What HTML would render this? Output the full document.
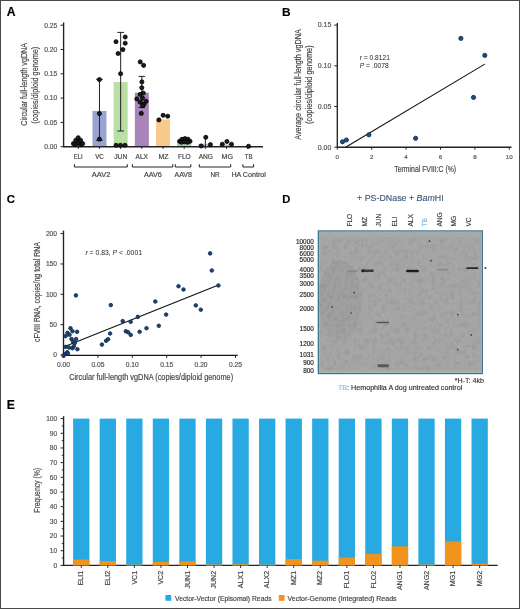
<!DOCTYPE html>
<html><head><meta charset="utf-8"><style>
html,body{margin:0;padding:0;background:#fff;}
body{width:520px;height:609px;overflow:hidden;}
svg{display:block;font-family:"Liberation Sans", sans-serif;will-change:transform;filter:blur(0.3px);}
text{paint-order:stroke;}
</style></head><body>
<svg width="520" height="609" viewBox="0 0 520 609">
<rect x="0" y="0" width="520" height="609" fill="#fff"/>
<text x="6.70" y="15.80" font-size="12.2" text-anchor="start" fill="#000" font-weight="bold" stroke="#000" stroke-width="0.15">A</text>
<text x="282.00" y="15.80" font-size="11.8" text-anchor="start" fill="#000" font-weight="bold" stroke="#000" stroke-width="0.15">B</text>
<text x="6.70" y="202.70" font-size="11.4" text-anchor="start" fill="#000" font-weight="bold" stroke="#000" stroke-width="0.15">C</text>
<text x="282.30" y="202.70" font-size="11.2" text-anchor="start" fill="#000" font-weight="bold" stroke="#000" stroke-width="0.15">D</text>
<text x="6.80" y="409.20" font-size="12.2" text-anchor="start" fill="#000" font-weight="bold" stroke="#000" stroke-width="0.15">E</text>
<line x1="63.60" y1="22.50" x2="63.60" y2="147.30" stroke="#222" stroke-width="1.35"/>
<line x1="60.60" y1="25.20" x2="63.60" y2="25.20" stroke="#222" stroke-width="1"/>
<text x="57.30" y="27.50" font-size="6.4" text-anchor="end" fill="#555555" textLength="13.0" lengthAdjust="spacingAndGlyphs" stroke="#555555" stroke-width="0.18">0.25</text>
<line x1="60.60" y1="49.50" x2="63.60" y2="49.50" stroke="#222" stroke-width="1"/>
<text x="57.30" y="51.80" font-size="6.4" text-anchor="end" fill="#555555" textLength="13.0" lengthAdjust="spacingAndGlyphs" stroke="#555555" stroke-width="0.18">0.20</text>
<line x1="60.60" y1="73.80" x2="63.60" y2="73.80" stroke="#222" stroke-width="1"/>
<text x="57.30" y="76.10" font-size="6.4" text-anchor="end" fill="#555555" textLength="13.0" lengthAdjust="spacingAndGlyphs" stroke="#555555" stroke-width="0.18">0.15</text>
<line x1="60.60" y1="98.10" x2="63.60" y2="98.10" stroke="#222" stroke-width="1"/>
<text x="57.30" y="100.40" font-size="6.4" text-anchor="end" fill="#555555" textLength="13.0" lengthAdjust="spacingAndGlyphs" stroke="#555555" stroke-width="0.18">0.10</text>
<line x1="60.60" y1="122.40" x2="63.60" y2="122.40" stroke="#222" stroke-width="1"/>
<text x="57.30" y="124.70" font-size="6.4" text-anchor="end" fill="#555555" textLength="13.0" lengthAdjust="spacingAndGlyphs" stroke="#555555" stroke-width="0.18">0.05</text>
<line x1="60.60" y1="146.70" x2="63.60" y2="146.70" stroke="#222" stroke-width="1"/>
<text x="57.30" y="149.00" font-size="6.4" text-anchor="end" fill="#555555" textLength="13.0" lengthAdjust="spacingAndGlyphs" stroke="#555555" stroke-width="0.18">0.00</text>
<text x="26.70" y="84.30" font-size="8.8" text-anchor="middle" fill="#454545" textLength="82.8" lengthAdjust="spacingAndGlyphs" stroke="#454545" stroke-width="0.18" transform="rotate(-90 26.70 84.30)">Circular full-length vgDNA</text>
<text x="37.50" y="85.25" font-size="8.8" text-anchor="middle" fill="#454545" textLength="76.9" lengthAdjust="spacingAndGlyphs" stroke="#454545" stroke-width="0.18" transform="rotate(-90 37.50 85.25)">(copies/diploid genome)</text>
<rect x="71.30" y="141.84" width="14.00" height="4.86" fill="#e9a7a3"/>
<rect x="92.48" y="110.98" width="14.00" height="35.72" fill="#99a3d0"/>
<rect x="113.66" y="82.06" width="14.00" height="64.64" fill="#b9dfa5"/>
<rect x="134.84" y="92.75" width="14.00" height="53.95" fill="#a884b8"/>
<rect x="156.02" y="119.48" width="14.00" height="27.22" fill="#f8c98b"/>
<rect x="177.20" y="140.87" width="14.00" height="5.83" fill="#a9c6a9"/>
<rect x="198.38" y="143.78" width="14.00" height="2.92" fill="#b9b9dd"/>
<rect x="219.56" y="144.27" width="14.00" height="2.43" fill="#e6b8c8"/>
<line x1="99.48" y1="79.30" x2="99.48" y2="140.40" stroke="#222" stroke-width="1"/>
<line x1="96.18" y1="79.30" x2="102.78" y2="79.30" stroke="#222" stroke-width="1"/>
<line x1="96.18" y1="140.40" x2="102.78" y2="140.40" stroke="#222" stroke-width="1"/>
<line x1="120.66" y1="32.40" x2="120.66" y2="131.00" stroke="#222" stroke-width="1"/>
<line x1="117.36" y1="32.40" x2="123.96" y2="32.40" stroke="#222" stroke-width="1"/>
<line x1="117.36" y1="131.00" x2="123.96" y2="131.00" stroke="#222" stroke-width="1"/>
<line x1="141.84" y1="76.40" x2="141.84" y2="107.50" stroke="#222" stroke-width="1"/>
<line x1="138.54" y1="76.40" x2="145.14" y2="76.40" stroke="#222" stroke-width="1"/>
<line x1="138.54" y1="107.50" x2="145.14" y2="107.50" stroke="#222" stroke-width="1"/>
<line x1="205.38" y1="137.50" x2="205.38" y2="146.70" stroke="#222" stroke-width="1"/>
<line x1="63.60" y1="146.70" x2="263.00" y2="146.70" stroke="#222" stroke-width="1.35"/>
<line x1="78.30" y1="146.70" x2="78.30" y2="148.90" stroke="#222" stroke-width="1"/>
<line x1="99.48" y1="146.70" x2="99.48" y2="148.90" stroke="#222" stroke-width="1"/>
<line x1="120.66" y1="146.70" x2="120.66" y2="148.90" stroke="#222" stroke-width="1"/>
<line x1="141.84" y1="146.70" x2="141.84" y2="148.90" stroke="#222" stroke-width="1"/>
<line x1="163.02" y1="146.70" x2="163.02" y2="148.90" stroke="#222" stroke-width="1"/>
<line x1="184.20" y1="146.70" x2="184.20" y2="148.90" stroke="#222" stroke-width="1"/>
<line x1="205.38" y1="146.70" x2="205.38" y2="148.90" stroke="#222" stroke-width="1"/>
<line x1="226.56" y1="146.70" x2="226.56" y2="148.90" stroke="#222" stroke-width="1"/>
<line x1="247.74" y1="146.70" x2="247.74" y2="148.90" stroke="#222" stroke-width="1"/>
<circle cx="73.50" cy="143.60" r="2.05" fill="#1c1c1c" stroke="#000" stroke-width="0.8"/>
<circle cx="75.60" cy="144.60" r="2.05" fill="#1c1c1c" stroke="#000" stroke-width="0.8"/>
<circle cx="80.60" cy="144.60" r="2.05" fill="#1c1c1c" stroke="#000" stroke-width="0.8"/>
<circle cx="82.50" cy="143.60" r="2.05" fill="#1c1c1c" stroke="#000" stroke-width="0.8"/>
<circle cx="78.20" cy="142.60" r="2.05" fill="#1c1c1c" stroke="#000" stroke-width="0.8"/>
<circle cx="75.80" cy="140.30" r="2.05" fill="#1c1c1c" stroke="#000" stroke-width="0.8"/>
<circle cx="80.60" cy="140.30" r="2.05" fill="#1c1c1c" stroke="#000" stroke-width="0.8"/>
<circle cx="78.20" cy="137.70" r="2.05" fill="#1c1c1c" stroke="#000" stroke-width="0.8"/>
<circle cx="99.40" cy="79.60" r="2.05" fill="#1c1c1c" stroke="#000" stroke-width="0.8"/>
<circle cx="99.40" cy="113.60" r="2.05" fill="#1c1c1c" stroke="#000" stroke-width="0.8"/>
<circle cx="99.40" cy="139.20" r="2.05" fill="#1c1c1c" stroke="#000" stroke-width="0.8"/>
<circle cx="125.20" cy="37.00" r="2.05" fill="#1c1c1c" stroke="#000" stroke-width="0.8"/>
<circle cx="116.00" cy="41.70" r="2.05" fill="#1c1c1c" stroke="#000" stroke-width="0.8"/>
<circle cx="125.20" cy="43.20" r="2.05" fill="#1c1c1c" stroke="#000" stroke-width="0.8"/>
<circle cx="122.90" cy="49.60" r="2.05" fill="#1c1c1c" stroke="#000" stroke-width="0.8"/>
<circle cx="118.10" cy="53.50" r="2.05" fill="#1c1c1c" stroke="#000" stroke-width="0.8"/>
<circle cx="120.60" cy="73.70" r="2.05" fill="#1c1c1c" stroke="#000" stroke-width="0.8"/>
<circle cx="116.10" cy="145.30" r="2.05" fill="#1c1c1c" stroke="#000" stroke-width="0.8"/>
<circle cx="120.50" cy="145.30" r="2.05" fill="#1c1c1c" stroke="#000" stroke-width="0.8"/>
<circle cx="125.00" cy="145.30" r="2.05" fill="#1c1c1c" stroke="#000" stroke-width="0.8"/>
<circle cx="140.20" cy="61.90" r="2.05" fill="#1c1c1c" stroke="#000" stroke-width="0.8"/>
<circle cx="143.60" cy="65.40" r="2.05" fill="#1c1c1c" stroke="#000" stroke-width="0.8"/>
<circle cx="141.90" cy="81.90" r="2.05" fill="#1c1c1c" stroke="#000" stroke-width="0.8"/>
<circle cx="141.80" cy="87.70" r="2.05" fill="#1c1c1c" stroke="#000" stroke-width="0.8"/>
<circle cx="140.10" cy="94.40" r="2.05" fill="#1c1c1c" stroke="#000" stroke-width="0.8"/>
<circle cx="143.30" cy="93.00" r="2.05" fill="#1c1c1c" stroke="#000" stroke-width="0.8"/>
<circle cx="136.80" cy="98.90" r="2.05" fill="#1c1c1c" stroke="#000" stroke-width="0.8"/>
<circle cx="142.50" cy="98.10" r="2.05" fill="#1c1c1c" stroke="#000" stroke-width="0.8"/>
<circle cx="146.10" cy="101.30" r="2.05" fill="#1c1c1c" stroke="#000" stroke-width="0.8"/>
<circle cx="140.10" cy="102.10" r="2.05" fill="#1c1c1c" stroke="#000" stroke-width="0.8"/>
<circle cx="144.10" cy="104.10" r="2.05" fill="#1c1c1c" stroke="#000" stroke-width="0.8"/>
<circle cx="142.50" cy="105.80" r="2.05" fill="#1c1c1c" stroke="#000" stroke-width="0.8"/>
<circle cx="141.30" cy="113.40" r="2.05" fill="#1c1c1c" stroke="#000" stroke-width="0.8"/>
<circle cx="158.90" cy="119.90" r="2.05" fill="#1c1c1c" stroke="#000" stroke-width="0.8"/>
<circle cx="163.10" cy="115.30" r="2.05" fill="#1c1c1c" stroke="#000" stroke-width="0.8"/>
<circle cx="167.70" cy="116.20" r="2.05" fill="#1c1c1c" stroke="#000" stroke-width="0.8"/>
<circle cx="179.60" cy="141.30" r="2.05" fill="#1c1c1c" stroke="#000" stroke-width="0.8"/>
<circle cx="182.00" cy="139.30" r="2.05" fill="#1c1c1c" stroke="#000" stroke-width="0.8"/>
<circle cx="185.00" cy="138.60" r="2.05" fill="#1c1c1c" stroke="#000" stroke-width="0.8"/>
<circle cx="188.00" cy="139.20" r="2.05" fill="#1c1c1c" stroke="#000" stroke-width="0.8"/>
<circle cx="190.00" cy="141.30" r="2.05" fill="#1c1c1c" stroke="#000" stroke-width="0.8"/>
<circle cx="181.50" cy="142.30" r="2.05" fill="#1c1c1c" stroke="#000" stroke-width="0.8"/>
<circle cx="184.50" cy="141.80" r="2.05" fill="#1c1c1c" stroke="#000" stroke-width="0.8"/>
<circle cx="187.50" cy="142.20" r="2.05" fill="#1c1c1c" stroke="#000" stroke-width="0.8"/>
<circle cx="205.80" cy="137.30" r="2.05" fill="#1c1c1c" stroke="#000" stroke-width="0.8"/>
<circle cx="201.20" cy="146.00" r="2.05" fill="#1c1c1c" stroke="#000" stroke-width="0.8"/>
<circle cx="210.40" cy="144.60" r="2.05" fill="#1c1c1c" stroke="#000" stroke-width="0.8"/>
<circle cx="222.30" cy="144.20" r="2.05" fill="#1c1c1c" stroke="#000" stroke-width="0.8"/>
<circle cx="226.90" cy="141.50" r="2.05" fill="#1c1c1c" stroke="#000" stroke-width="0.8"/>
<circle cx="231.50" cy="144.20" r="2.05" fill="#1c1c1c" stroke="#000" stroke-width="0.8"/>
<circle cx="248.50" cy="146.30" r="2.05" fill="#1c1c1c" stroke="#000" stroke-width="0.8"/>
<text x="78.25" y="159.00" font-size="6.5" text-anchor="middle" fill="#454545" textLength="8.9" lengthAdjust="spacingAndGlyphs" stroke="#454545" stroke-width="0.18">ELI</text>
<text x="99.50" y="159.00" font-size="6.5" text-anchor="middle" fill="#454545" textLength="8.6" lengthAdjust="spacingAndGlyphs" stroke="#454545" stroke-width="0.18">VC</text>
<text x="120.75" y="159.00" font-size="6.5" text-anchor="middle" fill="#454545" textLength="13.1" lengthAdjust="spacingAndGlyphs" stroke="#454545" stroke-width="0.18">JUN</text>
<text x="141.80" y="159.00" font-size="6.5" text-anchor="middle" fill="#454545" textLength="12.4" lengthAdjust="spacingAndGlyphs" stroke="#454545" stroke-width="0.18">ALX</text>
<text x="163.55" y="159.00" font-size="6.5" text-anchor="middle" fill="#454545" textLength="10.1" lengthAdjust="spacingAndGlyphs" stroke="#454545" stroke-width="0.18">MZ</text>
<text x="184.35" y="159.00" font-size="6.5" text-anchor="middle" fill="#454545" textLength="12.9" lengthAdjust="spacingAndGlyphs" stroke="#454545" stroke-width="0.18">FLO</text>
<text x="205.85" y="159.00" font-size="6.5" text-anchor="middle" fill="#454545" textLength="14.3" lengthAdjust="spacingAndGlyphs" stroke="#454545" stroke-width="0.18">ANG</text>
<text x="227.20" y="159.00" font-size="6.5" text-anchor="middle" fill="#454545" textLength="11.4" lengthAdjust="spacingAndGlyphs" stroke="#454545" stroke-width="0.18">MG</text>
<text x="248.70" y="159.00" font-size="6.5" text-anchor="middle" fill="#454545" textLength="7.8" lengthAdjust="spacingAndGlyphs" stroke="#454545" stroke-width="0.18">TB</text>
<path d="M74.40 164.2 V167 H127.30 V164.2" fill="none" stroke="#222" stroke-width="1"/>
<text x="101.05" y="176.60" font-size="6.5" text-anchor="middle" fill="#454545" textLength="18.7" lengthAdjust="spacingAndGlyphs" stroke="#454545" stroke-width="0.18">AAV2</text>
<path d="M132.40 164.2 V167 H172.80 V164.2" fill="none" stroke="#222" stroke-width="1"/>
<text x="152.90" y="176.60" font-size="6.5" text-anchor="middle" fill="#454545" textLength="18" lengthAdjust="spacingAndGlyphs" stroke="#454545" stroke-width="0.18">AAV6</text>
<path d="M175.30 164.2 V167 H190.80 V164.2" fill="none" stroke="#222" stroke-width="1"/>
<text x="183.25" y="176.60" font-size="6.5" text-anchor="middle" fill="#454545" textLength="17.3" lengthAdjust="spacingAndGlyphs" stroke="#454545" stroke-width="0.18">AAV8</text>
<path d="M199.30 164.2 V167 H230.70 V164.2" fill="none" stroke="#222" stroke-width="1"/>
<text x="215.00" y="176.60" font-size="6.5" text-anchor="middle" fill="#454545" textLength="9.2" lengthAdjust="spacingAndGlyphs" stroke="#454545" stroke-width="0.18">NR</text>
<path d="M242.90 164.2 V167 H253.60 V164.2" fill="none" stroke="#222" stroke-width="1"/>
<text x="248.60" y="176.60" font-size="6.5" text-anchor="middle" fill="#454545" textLength="34.4" lengthAdjust="spacingAndGlyphs" stroke="#454545" stroke-width="0.18">HA Control</text>
<line x1="337.30" y1="23.00" x2="337.30" y2="147.80" stroke="#222" stroke-width="1.35"/>
<line x1="334.30" y1="25.10" x2="337.30" y2="25.10" stroke="#222" stroke-width="1"/>
<text x="331.30" y="27.40" font-size="6.4" text-anchor="end" fill="#555555" textLength="13.5" lengthAdjust="spacingAndGlyphs" stroke="#555555" stroke-width="0.18">0.15</text>
<line x1="334.30" y1="65.80" x2="337.30" y2="65.80" stroke="#222" stroke-width="1"/>
<text x="331.30" y="68.10" font-size="6.4" text-anchor="end" fill="#555555" textLength="13.5" lengthAdjust="spacingAndGlyphs" stroke="#555555" stroke-width="0.18">0.10</text>
<line x1="334.30" y1="106.50" x2="337.30" y2="106.50" stroke="#222" stroke-width="1"/>
<text x="331.30" y="108.80" font-size="6.4" text-anchor="end" fill="#555555" textLength="13.5" lengthAdjust="spacingAndGlyphs" stroke="#555555" stroke-width="0.18">0.05</text>
<line x1="334.30" y1="147.20" x2="337.30" y2="147.20" stroke="#222" stroke-width="1"/>
<text x="331.30" y="149.50" font-size="6.4" text-anchor="end" fill="#555555" textLength="13.5" lengthAdjust="spacingAndGlyphs" stroke="#555555" stroke-width="0.18">0.00</text>
<line x1="337.30" y1="147.20" x2="511.50" y2="147.20" stroke="#222" stroke-width="1.35"/>
<line x1="337.30" y1="147.20" x2="337.30" y2="149.70" stroke="#222" stroke-width="1"/>
<text x="337.30" y="159.40" font-size="6.2" text-anchor="middle" fill="#555555" stroke="#555555" stroke-width="0.18">0</text>
<line x1="371.70" y1="147.20" x2="371.70" y2="149.70" stroke="#222" stroke-width="1"/>
<text x="371.70" y="159.40" font-size="6.2" text-anchor="middle" fill="#555555" stroke="#555555" stroke-width="0.18">2</text>
<line x1="406.10" y1="147.20" x2="406.10" y2="149.70" stroke="#222" stroke-width="1"/>
<text x="406.10" y="159.40" font-size="6.2" text-anchor="middle" fill="#555555" stroke="#555555" stroke-width="0.18">4</text>
<line x1="440.50" y1="147.20" x2="440.50" y2="149.70" stroke="#222" stroke-width="1"/>
<text x="440.50" y="159.40" font-size="6.2" text-anchor="middle" fill="#555555" stroke="#555555" stroke-width="0.18">6</text>
<line x1="474.90" y1="147.20" x2="474.90" y2="149.70" stroke="#222" stroke-width="1"/>
<text x="474.90" y="159.40" font-size="6.2" text-anchor="middle" fill="#555555" stroke="#555555" stroke-width="0.18">8</text>
<line x1="509.30" y1="147.20" x2="509.30" y2="149.70" stroke="#222" stroke-width="1"/>
<text x="509.30" y="159.40" font-size="6.2" text-anchor="middle" fill="#555555" stroke="#555555" stroke-width="0.18">10</text>
<text x="425.20" y="171.60" font-size="8.5" text-anchor="middle" fill="#454545" textLength="61.9" lengthAdjust="spacingAndGlyphs" stroke="#454545" stroke-width="0.18">Terminal FVIII:C (%)</text>
<text x="301.00" y="84.45" font-size="8.4" text-anchor="middle" fill="#454545" textLength="110.5" lengthAdjust="spacingAndGlyphs" stroke="#454545" stroke-width="0.18" transform="rotate(-90 301.00 84.45)">Average circular full-length vgDNA</text>
<text x="312.00" y="84.60" font-size="8.4" text-anchor="middle" fill="#454545" textLength="78.6" lengthAdjust="spacingAndGlyphs" stroke="#454545" stroke-width="0.18" transform="rotate(-90 312.00 84.60)">(copies/diploid genome)</text>
<line x1="345.60" y1="147.20" x2="484.80" y2="64.10" stroke="#111" stroke-width="1.1"/>
<circle cx="342.50" cy="141.80" r="2.1" fill="#1f4b80" stroke="#0e2c55" stroke-width="0.85"/>
<circle cx="346.40" cy="140.00" r="2.1" fill="#1f4b80" stroke="#0e2c55" stroke-width="0.85"/>
<circle cx="368.90" cy="134.80" r="2.1" fill="#1f4b80" stroke="#0e2c55" stroke-width="0.85"/>
<circle cx="415.60" cy="138.30" r="2.1" fill="#1f4b80" stroke="#0e2c55" stroke-width="0.85"/>
<circle cx="460.90" cy="38.40" r="2.1" fill="#1f4b80" stroke="#0e2c55" stroke-width="0.85"/>
<circle cx="484.80" cy="55.40" r="2.1" fill="#1f4b80" stroke="#0e2c55" stroke-width="0.85"/>
<circle cx="473.50" cy="97.40" r="2.1" fill="#1f4b80" stroke="#0e2c55" stroke-width="0.85"/>
<text x="359.7" y="60" font-size="6.6" fill="#222" textLength="30.2" lengthAdjust="spacingAndGlyphs"><tspan font-style="italic">r</tspan> = 0.8121</text>
<text x="359.7" y="68" font-size="6.6" fill="#222" textLength="29.2" lengthAdjust="spacingAndGlyphs"><tspan font-style="italic">P</tspan> = .0078</text>
<line x1="63.50" y1="230.60" x2="63.50" y2="356.00" stroke="#222" stroke-width="1.35"/>
<line x1="60.50" y1="233.60" x2="63.50" y2="233.60" stroke="#222" stroke-width="1"/>
<text x="56.90" y="235.90" font-size="6.6" text-anchor="end" fill="#555555" stroke="#555555" stroke-width="0.18">200</text>
<line x1="60.50" y1="263.95" x2="63.50" y2="263.95" stroke="#222" stroke-width="1"/>
<text x="56.90" y="266.25" font-size="6.6" text-anchor="end" fill="#555555" stroke="#555555" stroke-width="0.18">150</text>
<line x1="60.50" y1="294.30" x2="63.50" y2="294.30" stroke="#222" stroke-width="1"/>
<text x="56.90" y="296.60" font-size="6.6" text-anchor="end" fill="#555555" stroke="#555555" stroke-width="0.18">100</text>
<line x1="60.50" y1="324.65" x2="63.50" y2="324.65" stroke="#222" stroke-width="1"/>
<text x="56.90" y="326.95" font-size="6.6" text-anchor="end" fill="#555555" stroke="#555555" stroke-width="0.18">50</text>
<line x1="60.50" y1="355.00" x2="63.50" y2="355.00" stroke="#222" stroke-width="1"/>
<text x="56.90" y="357.30" font-size="6.6" text-anchor="end" fill="#555555" stroke="#555555" stroke-width="0.18">0</text>
<line x1="63.50" y1="355.40" x2="237.70" y2="355.40" stroke="#161616" stroke-width="1.2"/>
<line x1="63.50" y1="355.40" x2="63.50" y2="357.90" stroke="#222" stroke-width="1"/>
<text x="63.50" y="367.30" font-size="6.4" text-anchor="middle" fill="#555555" textLength="13.0" lengthAdjust="spacingAndGlyphs" stroke="#555555" stroke-width="0.18">0.00</text>
<line x1="97.90" y1="355.40" x2="97.90" y2="357.90" stroke="#222" stroke-width="1"/>
<text x="97.90" y="367.30" font-size="6.4" text-anchor="middle" fill="#555555" textLength="13.0" lengthAdjust="spacingAndGlyphs" stroke="#555555" stroke-width="0.18">0.05</text>
<line x1="132.30" y1="355.40" x2="132.30" y2="357.90" stroke="#222" stroke-width="1"/>
<text x="132.30" y="367.30" font-size="6.4" text-anchor="middle" fill="#555555" textLength="13.0" lengthAdjust="spacingAndGlyphs" stroke="#555555" stroke-width="0.18">0.10</text>
<line x1="166.70" y1="355.40" x2="166.70" y2="357.90" stroke="#222" stroke-width="1"/>
<text x="166.70" y="367.30" font-size="6.4" text-anchor="middle" fill="#555555" textLength="13.0" lengthAdjust="spacingAndGlyphs" stroke="#555555" stroke-width="0.18">0.15</text>
<line x1="201.10" y1="355.40" x2="201.10" y2="357.90" stroke="#222" stroke-width="1"/>
<text x="201.10" y="367.30" font-size="6.4" text-anchor="middle" fill="#555555" textLength="13.0" lengthAdjust="spacingAndGlyphs" stroke="#555555" stroke-width="0.18">0.20</text>
<line x1="235.50" y1="355.40" x2="235.50" y2="357.90" stroke="#222" stroke-width="1"/>
<text x="235.50" y="367.30" font-size="6.4" text-anchor="middle" fill="#555555" textLength="13.0" lengthAdjust="spacingAndGlyphs" stroke="#555555" stroke-width="0.18">0.25</text>
<text x="151.15" y="379.60" font-size="8.8" text-anchor="middle" fill="#454545" textLength="163.9" lengthAdjust="spacingAndGlyphs" stroke="#454545" stroke-width="0.18">Circular full-length vgDNA (copies/diploid genome)</text>
<text x="40.20" y="292.10" font-size="8.4" text-anchor="middle" fill="#454545" textLength="99.8" lengthAdjust="spacingAndGlyphs" stroke="#454545" stroke-width="0.18" transform="rotate(-90 40.20 292.10)">cFVIII RNA, copies/ng total RNA</text>
<line x1="63.50" y1="346.90" x2="217.30" y2="285.40" stroke="#111" stroke-width="1.1"/>
<circle cx="75.90" cy="295.40" r="1.8" fill="#1c4575" stroke="#0c2746" stroke-width="0.8"/>
<circle cx="70.50" cy="328.20" r="1.8" fill="#1c4575" stroke="#0c2746" stroke-width="0.8"/>
<circle cx="67.50" cy="332.80" r="1.8" fill="#1c4575" stroke="#0c2746" stroke-width="0.8"/>
<circle cx="72.50" cy="331.20" r="1.8" fill="#1c4575" stroke="#0c2746" stroke-width="0.8"/>
<circle cx="77.10" cy="331.80" r="1.8" fill="#1c4575" stroke="#0c2746" stroke-width="0.8"/>
<circle cx="65.60" cy="336.10" r="1.8" fill="#1c4575" stroke="#0c2746" stroke-width="0.8"/>
<circle cx="69.50" cy="334.80" r="1.8" fill="#1c4575" stroke="#0c2746" stroke-width="0.8"/>
<circle cx="71.50" cy="339.00" r="1.8" fill="#1c4575" stroke="#0c2746" stroke-width="0.8"/>
<circle cx="76.10" cy="339.00" r="1.8" fill="#1c4575" stroke="#0c2746" stroke-width="0.8"/>
<circle cx="73.10" cy="341.70" r="1.8" fill="#1c4575" stroke="#0c2746" stroke-width="0.8"/>
<circle cx="74.80" cy="343.00" r="1.8" fill="#1c4575" stroke="#0c2746" stroke-width="0.8"/>
<circle cx="65.60" cy="346.90" r="1.8" fill="#1c4575" stroke="#0c2746" stroke-width="0.8"/>
<circle cx="69.20" cy="347.60" r="1.8" fill="#1c4575" stroke="#0c2746" stroke-width="0.8"/>
<circle cx="72.50" cy="348.20" r="1.8" fill="#1c4575" stroke="#0c2746" stroke-width="0.8"/>
<circle cx="77.40" cy="349.20" r="1.8" fill="#1c4575" stroke="#0c2746" stroke-width="0.8"/>
<circle cx="73.80" cy="346.20" r="1.8" fill="#1c4575" stroke="#0c2746" stroke-width="0.8"/>
<circle cx="67.20" cy="352.20" r="1.8" fill="#1c4575" stroke="#0c2746" stroke-width="0.8"/>
<circle cx="64.60" cy="354.10" r="1.8" fill="#1c4575" stroke="#0c2746" stroke-width="0.8"/>
<circle cx="67.90" cy="353.50" r="1.8" fill="#1c4575" stroke="#0c2746" stroke-width="0.8"/>
<circle cx="63.60" cy="355.80" r="1.8" fill="#1c4575" stroke="#0c2746" stroke-width="0.8"/>
<circle cx="110.80" cy="305.10" r="1.8" fill="#1c4575" stroke="#0c2746" stroke-width="0.8"/>
<circle cx="101.90" cy="344.60" r="1.8" fill="#1c4575" stroke="#0c2746" stroke-width="0.8"/>
<circle cx="106.10" cy="340.80" r="1.8" fill="#1c4575" stroke="#0c2746" stroke-width="0.8"/>
<circle cx="108.10" cy="339.20" r="1.8" fill="#1c4575" stroke="#0c2746" stroke-width="0.8"/>
<circle cx="110.10" cy="333.50" r="1.8" fill="#1c4575" stroke="#0c2746" stroke-width="0.8"/>
<circle cx="122.70" cy="321.10" r="1.8" fill="#1c4575" stroke="#0c2746" stroke-width="0.8"/>
<circle cx="125.80" cy="331.20" r="1.8" fill="#1c4575" stroke="#0c2746" stroke-width="0.8"/>
<circle cx="128.10" cy="332.30" r="1.8" fill="#1c4575" stroke="#0c2746" stroke-width="0.8"/>
<circle cx="130.70" cy="334.90" r="1.8" fill="#1c4575" stroke="#0c2746" stroke-width="0.8"/>
<circle cx="130.70" cy="321.80" r="1.8" fill="#1c4575" stroke="#0c2746" stroke-width="0.8"/>
<circle cx="137.80" cy="316.90" r="1.8" fill="#1c4575" stroke="#0c2746" stroke-width="0.8"/>
<circle cx="139.60" cy="331.80" r="1.8" fill="#1c4575" stroke="#0c2746" stroke-width="0.8"/>
<circle cx="146.50" cy="328.20" r="1.8" fill="#1c4575" stroke="#0c2746" stroke-width="0.8"/>
<circle cx="155.30" cy="301.50" r="1.8" fill="#1c4575" stroke="#0c2746" stroke-width="0.8"/>
<circle cx="158.80" cy="325.80" r="1.8" fill="#1c4575" stroke="#0c2746" stroke-width="0.8"/>
<circle cx="166.10" cy="314.60" r="1.8" fill="#1c4575" stroke="#0c2746" stroke-width="0.8"/>
<circle cx="210.10" cy="253.40" r="1.8" fill="#1c4575" stroke="#0c2746" stroke-width="0.8"/>
<circle cx="211.80" cy="270.50" r="1.8" fill="#1c4575" stroke="#0c2746" stroke-width="0.8"/>
<circle cx="218.40" cy="285.50" r="1.8" fill="#1c4575" stroke="#0c2746" stroke-width="0.8"/>
<circle cx="178.50" cy="286.20" r="1.8" fill="#1c4575" stroke="#0c2746" stroke-width="0.8"/>
<circle cx="183.50" cy="289.50" r="1.8" fill="#1c4575" stroke="#0c2746" stroke-width="0.8"/>
<circle cx="195.80" cy="305.40" r="1.8" fill="#1c4575" stroke="#0c2746" stroke-width="0.8"/>
<circle cx="200.80" cy="309.70" r="1.8" fill="#1c4575" stroke="#0c2746" stroke-width="0.8"/>
<text x="85.4" y="254.8" font-size="6.6" fill="#222" textLength="56.6" lengthAdjust="spacingAndGlyphs"><tspan font-style="italic">r</tspan> = 0.83, <tspan font-style="italic">P</tspan> &lt; .0001</text>
<text x="357" y="200.5" font-size="8.4" fill="#3b5678" stroke="#3b5678" stroke-width="0.12" textLength="86.7" lengthAdjust="spacingAndGlyphs">+ PS-DNase + <tspan font-style="italic">Bam</tspan>HI</text>
<text x="352.30" y="226.60" font-size="6.6" text-anchor="start" fill="#454545" stroke="#454545" stroke-width="0.18" transform="rotate(-90 352.30 226.60)">FLO</text>
<text x="367.20" y="226.60" font-size="6.6" text-anchor="start" fill="#454545" stroke="#454545" stroke-width="0.18" transform="rotate(-90 367.20 226.60)">MZ</text>
<text x="381.30" y="226.60" font-size="6.6" text-anchor="start" fill="#454545" stroke="#454545" stroke-width="0.18" transform="rotate(-90 381.30 226.60)">JUN</text>
<text x="397.30" y="226.60" font-size="6.6" text-anchor="start" fill="#454545" stroke="#454545" stroke-width="0.18" transform="rotate(-90 397.30 226.60)">ELI</text>
<text x="412.80" y="226.60" font-size="6.6" text-anchor="start" fill="#454545" stroke="#454545" stroke-width="0.18" transform="rotate(-90 412.80 226.60)">ALX</text>
<text x="427.30" y="226.60" font-size="6.6" text-anchor="start" fill="#7cbde2" stroke="#7cbde2" stroke-width="0.18" transform="rotate(-90 427.30 226.60)">TB</text>
<text x="441.80" y="226.60" font-size="6.6" text-anchor="start" fill="#454545" stroke="#454545" stroke-width="0.18" transform="rotate(-90 441.80 226.60)">ANG</text>
<text x="456.30" y="226.60" font-size="6.6" text-anchor="start" fill="#454545" stroke="#454545" stroke-width="0.18" transform="rotate(-90 456.30 226.60)">MG</text>
<text x="471.30" y="226.60" font-size="6.6" text-anchor="start" fill="#454545" stroke="#454545" stroke-width="0.18" transform="rotate(-90 471.30 226.60)">VC</text>
<rect x="318.35" y="230.95" width="164.00" height="142.60" fill="#a7a7a7" stroke="#3f7489" stroke-width="1.3"/>
<rect x="319.45" y="232.05" width="161.8" height="140.4" fill="none" stroke="#9cbfcc" stroke-width="0.8"/>
<rect x="319.90" y="370.00" width="160.90" height="1.10" fill="#b0aa98"/>
<defs><filter id="nz" x="0" y="0" width="100%" height="100%"><feTurbulence type="fractalNoise" baseFrequency="0.22 0.18" numOctaves="2" seed="7"/><feColorMatrix type="matrix" values="0 0 0 0 0  0 0 0 0 0  0 0 0 0 0  0 0 0 -1.1 0.62"/></filter><filter id="nz2" x="0" y="0" width="100%" height="100%"><feTurbulence type="fractalNoise" baseFrequency="0.5" numOctaves="1" seed="3"/><feColorMatrix type="matrix" values="0 0 0 0 0  0 0 0 0 0  0 0 0 0 0  0 0 0 -0.8 0.45"/></filter></defs>
<rect x="319.9" y="232.5" width="160.9" height="137.5" filter="url(#nz)" opacity="0.14"/>
<rect x="319.9" y="232.5" width="160.9" height="137.5" filter="url(#nz2)" opacity="0.10"/>
<ellipse cx="340" cy="300" rx="22" ry="40" fill="#000" opacity="0.035"/>
<rect x="319.90" y="232.50" width="160.90" height="1.00" fill="#b0a8a6"/>
<rect x="319.90" y="233.50" width="160.90" height="2.50" fill="#a6a9ab"/>
<rect x="319.90" y="236.00" width="160.90" height="1.20" fill="#a7aaa0"/>
<rect x="319.90" y="237.20" width="160.90" height="1.20" fill="#a6a3a6"/>
<defs><filter id="bl" x="-20%" y="-100%" width="140%" height="300%"><feGaussianBlur stdDeviation="0.45"/></filter></defs>
<rect x="347.3" y="270.25" width="10.40" height="1.9" rx="1" fill="#858585" opacity="0.9" filter="url(#bl)"/>
<rect x="361.5" y="269.50" width="12.30" height="2.6" rx="1" fill="#3a3a3a" opacity="1" filter="url(#bl)"/>
<rect x="361.5" y="269.40" width="3.00" height="2.8" rx="1" fill="#222" opacity="1" filter="url(#bl)"/>
<rect x="406.2" y="269.65" width="12.60" height="2.5" rx="1" fill="#1c1c1c" opacity="1" filter="url(#bl)"/>
<rect x="436.8" y="268.65" width="11.40" height="1.9" rx="1" fill="#878787" opacity="0.9" filter="url(#bl)"/>
<rect x="466.2" y="267.30" width="12.20" height="1.8" rx="1" fill="#262626" opacity="1" filter="url(#bl)"/>
<rect x="376.4" y="321.85" width="12.80" height="1.5" rx="1" fill="#555" opacity="1" filter="url(#bl)"/>
<rect x="377.5" y="364.30" width="11.50" height="3.0" rx="1" fill="#5a5a5a" opacity="1" filter="url(#bl)"/>
<circle cx="332.10" cy="306.90" r="0.85" fill="#3a3a3a"/>
<circle cx="351.00" cy="313.00" r="0.85" fill="#3a3a3a"/>
<circle cx="354.20" cy="292.60" r="0.85" fill="#3a3a3a"/>
<circle cx="457.80" cy="314.60" r="0.85" fill="#3a3a3a"/>
<circle cx="471.20" cy="334.90" r="0.85" fill="#3a3a3a"/>
<circle cx="457.80" cy="349.60" r="0.85" fill="#3a3a3a"/>
<circle cx="429.40" cy="241.20" r="0.85" fill="#3a3a3a"/>
<circle cx="431.00" cy="260.70" r="0.85" fill="#3a3a3a"/>
<text x="313.80" y="244.20" font-size="6.4" text-anchor="end" fill="#2a2a2a" stroke="#2a2a2a" stroke-width="0.18">10000</text>
<text x="313.80" y="250.00" font-size="6.4" text-anchor="end" fill="#2a2a2a" stroke="#2a2a2a" stroke-width="0.18">8000</text>
<text x="313.80" y="256.10" font-size="6.4" text-anchor="end" fill="#2a2a2a" stroke="#2a2a2a" stroke-width="0.18">6000</text>
<text x="313.80" y="262.30" font-size="6.4" text-anchor="end" fill="#2a2a2a" stroke="#2a2a2a" stroke-width="0.18">5000</text>
<text x="313.80" y="271.50" font-size="6.4" text-anchor="end" fill="#2a2a2a" stroke="#2a2a2a" stroke-width="0.18">4000</text>
<text x="313.80" y="277.90" font-size="6.4" text-anchor="end" fill="#2a2a2a" stroke="#2a2a2a" stroke-width="0.18">3500</text>
<text x="313.80" y="286.00" font-size="6.4" text-anchor="end" fill="#2a2a2a" stroke="#2a2a2a" stroke-width="0.18">3000</text>
<text x="313.80" y="297.10" font-size="6.4" text-anchor="end" fill="#2a2a2a" stroke="#2a2a2a" stroke-width="0.18">2500</text>
<text x="313.80" y="311.00" font-size="6.4" text-anchor="end" fill="#2a2a2a" stroke="#2a2a2a" stroke-width="0.18">2000</text>
<text x="313.80" y="330.80" font-size="6.4" text-anchor="end" fill="#2a2a2a" stroke="#2a2a2a" stroke-width="0.18">1500</text>
<text x="313.80" y="345.60" font-size="6.4" text-anchor="end" fill="#2a2a2a" stroke="#2a2a2a" stroke-width="0.18">1200</text>
<text x="313.80" y="357.20" font-size="6.4" text-anchor="end" fill="#2a2a2a" stroke="#2a2a2a" stroke-width="0.18">1031</text>
<text x="313.80" y="364.60" font-size="6.4" text-anchor="end" fill="#2a2a2a" stroke="#2a2a2a" stroke-width="0.18">900</text>
<text x="313.80" y="372.60" font-size="6.4" text-anchor="end" fill="#2a2a2a" stroke="#2a2a2a" stroke-width="0.18">800</text>
<text x="485.50" y="270.50" font-size="6" text-anchor="middle" fill="#222" stroke="#222" stroke-width="0.18">*</text>
<text x="484.00" y="383.20" font-size="6.8" text-anchor="end" fill="#2a2a2a" textLength="29.2" lengthAdjust="spacingAndGlyphs" stroke="#2a2a2a" stroke-width="0.1">*H-T: 4kb</text>
<text x="338.0" y="389.9" font-size="6.6" fill="#2a2a2a" stroke="#2a2a2a" stroke-width="0.12" textLength="124.3" lengthAdjust="spacingAndGlyphs"><tspan fill="#7cbde2" stroke="#7cbde2">TB</tspan>: Hemophilia A dog untreated control</text>
<line x1="63.60" y1="416.20" x2="63.60" y2="566.00" stroke="#222" stroke-width="1.35"/>
<line x1="60.60" y1="565.40" x2="63.60" y2="565.40" stroke="#222" stroke-width="1"/>
<text x="57.20" y="567.70" font-size="6.6" text-anchor="end" fill="#555555" stroke="#555555" stroke-width="0.18">0</text>
<line x1="61.80" y1="558.06" x2="63.60" y2="558.06" stroke="#222" stroke-width="1"/>
<line x1="60.60" y1="550.72" x2="63.60" y2="550.72" stroke="#222" stroke-width="1"/>
<text x="57.20" y="553.02" font-size="6.6" text-anchor="end" fill="#555555" stroke="#555555" stroke-width="0.18">10</text>
<line x1="61.80" y1="543.38" x2="63.60" y2="543.38" stroke="#222" stroke-width="1"/>
<line x1="60.60" y1="536.04" x2="63.60" y2="536.04" stroke="#222" stroke-width="1"/>
<text x="57.20" y="538.34" font-size="6.6" text-anchor="end" fill="#555555" stroke="#555555" stroke-width="0.18">20</text>
<line x1="61.80" y1="528.70" x2="63.60" y2="528.70" stroke="#222" stroke-width="1"/>
<line x1="60.60" y1="521.36" x2="63.60" y2="521.36" stroke="#222" stroke-width="1"/>
<text x="57.20" y="523.66" font-size="6.6" text-anchor="end" fill="#555555" stroke="#555555" stroke-width="0.18">30</text>
<line x1="61.80" y1="514.02" x2="63.60" y2="514.02" stroke="#222" stroke-width="1"/>
<line x1="60.60" y1="506.68" x2="63.60" y2="506.68" stroke="#222" stroke-width="1"/>
<text x="57.20" y="508.98" font-size="6.6" text-anchor="end" fill="#555555" stroke="#555555" stroke-width="0.18">40</text>
<line x1="61.80" y1="499.34" x2="63.60" y2="499.34" stroke="#222" stroke-width="1"/>
<line x1="60.60" y1="492.00" x2="63.60" y2="492.00" stroke="#222" stroke-width="1"/>
<text x="57.20" y="494.30" font-size="6.6" text-anchor="end" fill="#555555" stroke="#555555" stroke-width="0.18">50</text>
<line x1="61.80" y1="484.66" x2="63.60" y2="484.66" stroke="#222" stroke-width="1"/>
<line x1="60.60" y1="477.32" x2="63.60" y2="477.32" stroke="#222" stroke-width="1"/>
<text x="57.20" y="479.62" font-size="6.6" text-anchor="end" fill="#555555" stroke="#555555" stroke-width="0.18">60</text>
<line x1="61.80" y1="469.98" x2="63.60" y2="469.98" stroke="#222" stroke-width="1"/>
<line x1="60.60" y1="462.64" x2="63.60" y2="462.64" stroke="#222" stroke-width="1"/>
<text x="57.20" y="464.94" font-size="6.6" text-anchor="end" fill="#555555" stroke="#555555" stroke-width="0.18">70</text>
<line x1="61.80" y1="455.30" x2="63.60" y2="455.30" stroke="#222" stroke-width="1"/>
<line x1="60.60" y1="447.96" x2="63.60" y2="447.96" stroke="#222" stroke-width="1"/>
<text x="57.20" y="450.26" font-size="6.6" text-anchor="end" fill="#555555" stroke="#555555" stroke-width="0.18">80</text>
<line x1="61.80" y1="440.62" x2="63.60" y2="440.62" stroke="#222" stroke-width="1"/>
<line x1="60.60" y1="433.28" x2="63.60" y2="433.28" stroke="#222" stroke-width="1"/>
<text x="57.20" y="435.58" font-size="6.6" text-anchor="end" fill="#555555" stroke="#555555" stroke-width="0.18">90</text>
<line x1="61.80" y1="425.94" x2="63.60" y2="425.94" stroke="#222" stroke-width="1"/>
<line x1="60.60" y1="418.60" x2="63.60" y2="418.60" stroke="#222" stroke-width="1"/>
<text x="57.20" y="420.90" font-size="6.6" text-anchor="end" fill="#555555" stroke="#555555" stroke-width="0.18">100</text>
<line x1="63.60" y1="565.40" x2="497.70" y2="565.40" stroke="#222" stroke-width="1.35"/>
<text x="39.80" y="490.35" font-size="8.2" text-anchor="middle" fill="#454545" textLength="44.9" lengthAdjust="spacingAndGlyphs" stroke="#454545" stroke-width="0.18" transform="rotate(-90 39.80 490.35)">Frequency (%)</text>
<rect x="73.10" y="418.60" width="16.30" height="146.80" fill="#29a9e1"/>
<rect x="73.10" y="559.53" width="16.30" height="5.87" fill="#f0941d"/>
<line x1="81.25" y1="565.40" x2="81.25" y2="567.90" stroke="#222" stroke-width="1"/>
<text x="83.45" y="570.90" font-size="6.4" text-anchor="end" fill="#454545" textLength="14.48" lengthAdjust="spacingAndGlyphs" stroke="#454545" stroke-width="0.18" transform="rotate(-90 83.45 570.90)">ELI1</text>
<rect x="99.66" y="418.60" width="16.30" height="146.80" fill="#29a9e1"/>
<rect x="99.66" y="561.00" width="16.30" height="4.40" fill="#f0941d"/>
<line x1="107.81" y1="565.40" x2="107.81" y2="567.90" stroke="#222" stroke-width="1"/>
<text x="110.01" y="570.90" font-size="6.4" text-anchor="end" fill="#454545" textLength="14.48" lengthAdjust="spacingAndGlyphs" stroke="#454545" stroke-width="0.18" transform="rotate(-90 110.01 570.90)">ELI2</text>
<rect x="126.22" y="418.60" width="16.30" height="146.80" fill="#29a9e1"/>
<rect x="126.22" y="564.67" width="16.30" height="0.73" fill="#f0941d"/>
<line x1="134.37" y1="565.40" x2="134.37" y2="567.90" stroke="#222" stroke-width="1"/>
<text x="136.57" y="570.90" font-size="6.4" text-anchor="end" fill="#454545" textLength="13.7" lengthAdjust="spacingAndGlyphs" stroke="#454545" stroke-width="0.18" transform="rotate(-90 136.57 570.90)">VC1</text>
<rect x="152.78" y="418.60" width="16.30" height="146.80" fill="#29a9e1"/>
<rect x="152.78" y="562.02" width="16.30" height="3.38" fill="#f0941d"/>
<line x1="160.93" y1="565.40" x2="160.93" y2="567.90" stroke="#222" stroke-width="1"/>
<text x="163.13" y="570.90" font-size="6.4" text-anchor="end" fill="#454545" textLength="13.7" lengthAdjust="spacingAndGlyphs" stroke="#454545" stroke-width="0.18" transform="rotate(-90 163.13 570.90)">VC2</text>
<rect x="179.34" y="418.60" width="16.30" height="146.80" fill="#29a9e1"/>
<rect x="179.34" y="561.44" width="16.30" height="3.96" fill="#f0941d"/>
<line x1="187.49" y1="565.40" x2="187.49" y2="567.90" stroke="#222" stroke-width="1"/>
<text x="189.69" y="570.90" font-size="6.4" text-anchor="end" fill="#454545" textLength="17.6" lengthAdjust="spacingAndGlyphs" stroke="#454545" stroke-width="0.18" transform="rotate(-90 189.69 570.90)">JUN1</text>
<rect x="205.90" y="418.60" width="16.30" height="146.80" fill="#29a9e1"/>
<rect x="205.90" y="564.52" width="16.30" height="0.88" fill="#f0941d"/>
<line x1="214.05" y1="565.40" x2="214.05" y2="567.90" stroke="#222" stroke-width="1"/>
<text x="216.25" y="570.90" font-size="6.4" text-anchor="end" fill="#454545" textLength="17.6" lengthAdjust="spacingAndGlyphs" stroke="#454545" stroke-width="0.18" transform="rotate(-90 216.25 570.90)">JUN2</text>
<rect x="232.46" y="418.60" width="16.30" height="146.80" fill="#29a9e1"/>
<rect x="232.46" y="564.23" width="16.30" height="1.17" fill="#f0941d"/>
<line x1="240.61" y1="565.40" x2="240.61" y2="567.90" stroke="#222" stroke-width="1"/>
<text x="242.81" y="570.90" font-size="6.4" text-anchor="end" fill="#454545" textLength="17.22" lengthAdjust="spacingAndGlyphs" stroke="#454545" stroke-width="0.18" transform="rotate(-90 242.81 570.90)">ALX1</text>
<rect x="259.02" y="418.60" width="16.30" height="146.80" fill="#29a9e1"/>
<rect x="259.02" y="564.67" width="16.30" height="0.73" fill="#f0941d"/>
<line x1="267.17" y1="565.40" x2="267.17" y2="567.90" stroke="#222" stroke-width="1"/>
<text x="269.37" y="570.90" font-size="6.4" text-anchor="end" fill="#454545" textLength="17.22" lengthAdjust="spacingAndGlyphs" stroke="#454545" stroke-width="0.18" transform="rotate(-90 269.37 570.90)">ALX2</text>
<rect x="285.58" y="418.60" width="16.30" height="146.80" fill="#29a9e1"/>
<rect x="285.58" y="559.09" width="16.30" height="6.31" fill="#f0941d"/>
<line x1="293.73" y1="565.40" x2="293.73" y2="567.90" stroke="#222" stroke-width="1"/>
<text x="295.93" y="570.90" font-size="6.4" text-anchor="end" fill="#454545" textLength="14.08" lengthAdjust="spacingAndGlyphs" stroke="#454545" stroke-width="0.18" transform="rotate(-90 295.93 570.90)">MZ1</text>
<rect x="312.14" y="418.60" width="16.30" height="146.80" fill="#29a9e1"/>
<rect x="312.14" y="560.70" width="16.30" height="4.70" fill="#f0941d"/>
<line x1="320.29" y1="565.40" x2="320.29" y2="567.90" stroke="#222" stroke-width="1"/>
<text x="322.49" y="570.90" font-size="6.4" text-anchor="end" fill="#454545" textLength="14.08" lengthAdjust="spacingAndGlyphs" stroke="#454545" stroke-width="0.18" transform="rotate(-90 322.49 570.90)">MZ2</text>
<rect x="338.70" y="418.60" width="16.30" height="146.80" fill="#29a9e1"/>
<rect x="338.70" y="557.62" width="16.30" height="7.78" fill="#f0941d"/>
<line x1="346.85" y1="565.40" x2="346.85" y2="567.90" stroke="#222" stroke-width="1"/>
<text x="349.05" y="570.90" font-size="6.4" text-anchor="end" fill="#454545" textLength="17.61" lengthAdjust="spacingAndGlyphs" stroke="#454545" stroke-width="0.18" transform="rotate(-90 349.05 570.90)">FLO1</text>
<rect x="365.26" y="418.60" width="16.30" height="146.80" fill="#29a9e1"/>
<rect x="365.26" y="553.80" width="16.30" height="11.60" fill="#f0941d"/>
<line x1="373.41" y1="565.40" x2="373.41" y2="567.90" stroke="#222" stroke-width="1"/>
<text x="375.61" y="570.90" font-size="6.4" text-anchor="end" fill="#454545" textLength="17.61" lengthAdjust="spacingAndGlyphs" stroke="#454545" stroke-width="0.18" transform="rotate(-90 375.61 570.90)">FLO2</text>
<rect x="391.82" y="418.60" width="16.30" height="146.80" fill="#29a9e1"/>
<rect x="391.82" y="546.32" width="16.30" height="19.08" fill="#f0941d"/>
<line x1="399.97" y1="565.40" x2="399.97" y2="567.90" stroke="#222" stroke-width="1"/>
<text x="402.17" y="570.90" font-size="6.4" text-anchor="end" fill="#454545" textLength="19.17" lengthAdjust="spacingAndGlyphs" stroke="#454545" stroke-width="0.18" transform="rotate(-90 402.17 570.90)">ANG1</text>
<rect x="418.38" y="418.60" width="16.30" height="146.80" fill="#29a9e1"/>
<rect x="418.38" y="564.52" width="16.30" height="0.88" fill="#f0941d"/>
<line x1="426.53" y1="565.40" x2="426.53" y2="567.90" stroke="#222" stroke-width="1"/>
<text x="428.73" y="570.90" font-size="6.4" text-anchor="end" fill="#454545" textLength="19.17" lengthAdjust="spacingAndGlyphs" stroke="#454545" stroke-width="0.18" transform="rotate(-90 428.73 570.90)">ANG2</text>
<rect x="444.94" y="418.60" width="16.30" height="146.80" fill="#29a9e1"/>
<rect x="444.94" y="541.47" width="16.30" height="23.93" fill="#f0941d"/>
<line x1="453.09" y1="565.40" x2="453.09" y2="567.90" stroke="#222" stroke-width="1"/>
<text x="455.29" y="570.90" font-size="6.4" text-anchor="end" fill="#454545" textLength="15.25" lengthAdjust="spacingAndGlyphs" stroke="#454545" stroke-width="0.18" transform="rotate(-90 455.29 570.90)">MG1</text>
<rect x="471.50" y="418.60" width="16.30" height="146.80" fill="#29a9e1"/>
<rect x="471.50" y="563.93" width="16.30" height="1.47" fill="#f0941d"/>
<line x1="479.65" y1="565.40" x2="479.65" y2="567.90" stroke="#222" stroke-width="1"/>
<text x="481.85" y="570.90" font-size="6.4" text-anchor="end" fill="#454545" textLength="15.25" lengthAdjust="spacingAndGlyphs" stroke="#454545" stroke-width="0.18" transform="rotate(-90 481.85 570.90)">MG2</text>
<rect x="165.40" y="595.00" width="5.80" height="5.80" fill="#29a9e1"/>
<text x="175.00" y="600.80" font-size="7.2" text-anchor="start" fill="#454545" textLength="96.6" lengthAdjust="spacingAndGlyphs" stroke="#454545" stroke-width="0.18">Vector-Vector (Episomal) Reads</text>
<rect x="278.80" y="595.00" width="5.80" height="5.80" fill="#f0941d"/>
<text x="287.50" y="600.80" font-size="7.2" text-anchor="start" fill="#454545" textLength="109.0" lengthAdjust="spacingAndGlyphs" stroke="#454545" stroke-width="0.18">Vector-Genome (Integrated) Reads</text>
<rect x="0.5" y="0.5" width="519" height="608" fill="none" stroke="#4a4a4a" stroke-width="1"/>
</svg>
</body></html>
